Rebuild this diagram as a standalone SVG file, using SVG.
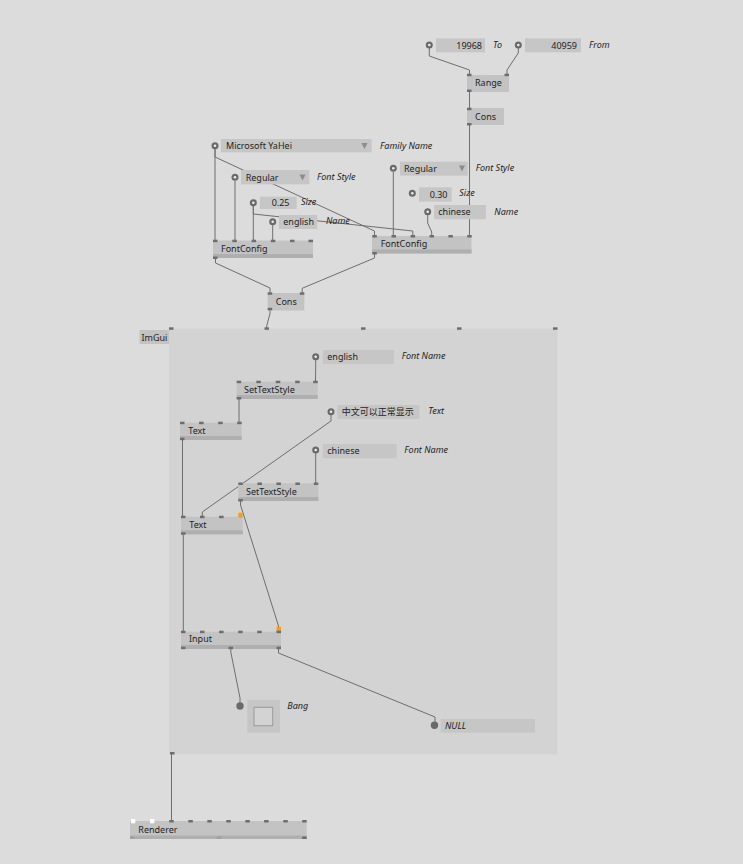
<svg xmlns="http://www.w3.org/2000/svg" width="743" height="864" viewBox="0 0 743 864">
<style>
.bg{fill:#dcdcdc}
.region{fill:#d3d3d3}
.node{fill:#c3c3c3}
.band{fill:#afafaf}
.pin{fill:#6e6e6e}
.opin{fill:#f0a020}
.wpin{fill:#ffffff}
.io{fill:#c6c6c6}
.tri{fill:#8c8c8c}
.ring{fill:#6a6a6a}
.dot{fill:#ececec}
.t{font-family:"Noto Sans","Noto Sans CJK SC",sans-serif;font-size:9px;fill:#1e1e1e}
.i{font-style:italic}
.r{text-anchor:end}
.link{fill:none;stroke:#6e6e6e;stroke-width:1}
</style>
<rect class="bg" x="0" y="0" width="743" height="864"/>

<g id="ImGui">
<rect class="region" x="169" y="328.5" width="388.5" height="426"/>
<rect class="node" x="139.5" y="330" width="29.5" height="14"/>
<text class="t" x="141.5" y="340.5">ImGui</text>
<rect class="pin" x="169" y="327.3" width="4.5" height="2.5"/>
<rect class="pin" x="264.5" y="327.3" width="4.5" height="2.5"/>
<rect class="pin" x="361" y="327.3" width="4.5" height="2.5"/>
<rect class="pin" x="457" y="327.3" width="4.5" height="2.5"/>
<rect class="pin" x="553" y="327.3" width="4.5" height="2.5"/>
<rect class="pin" x="170" y="752" width="4.5" height="2.5"/>
</g>

<g id="links">
<path class="link" d="M429.3,48 V56 L469.5,70 V74"/>
<path class="link" d="M518.3,48 V53 L507,70 V74"/>
<path class="link" d="M469.5,92 V108"/>
<path class="link" d="M469.5,125 V236"/>
<path class="link" d="M215,149 V241"/>
<path class="link" d="M215,149 V157 L374.5,231 V236"/>
<path class="link" d="M235,181 V241"/>
<path class="link" d="M253.3,206 V241"/>
<path class="link" d="M253.3,206 V214 L412.8,231 V236"/>
<path class="link" d="M272.7,225 V241"/>
<path class="link" d="M393.3,172 V236"/>
<path class="link" d="M427.7,215 V223 L431.7,232 V236"/>
<path class="link" d="M215.5,258 V263 L270,288 V293"/>
<path class="link" d="M374.5,253 V258 L302.2,288.3 V293"/>
<path class="link" d="M270,310 V313.5 L266.7,326 V328.5"/>
<path class="link" d="M315.7,360 V368 L315.5,378 V382"/>
<path class="link" d="M239,399 V423"/>
<path class="link" d="M331,415 V421 L202.3,512 V517"/>
<path class="link" d="M315.7,453 V483.5"/>
<path class="link" d="M182.5,440 V517"/>
<path class="link" d="M240.5,501 V505 L278.5,626 V631"/>
<path class="link" d="M183.3,535 V632"/>
<path class="link" d="M230.8,649 V652 L240,698 V706"/>
<path class="link" d="M278.5,649 V653 L435,717 V725"/>
<path class="link" d="M171.5,754 V821"/>
</g>

<g id="io-19968">
<circle class="ring" cx="429.3" cy="45" r="3.5"/><circle class="dot" cx="429.3" cy="45" r="1.3"/>
<rect class="io" x="436" y="38.3" width="49" height="14"/>
<text class="t r" x="482" y="48.5">19968</text>
<text class="t i" x="493" y="47.5">To</text>
</g>
<g id="io-40959">
<circle class="ring" cx="518.3" cy="45" r="3.5"/><circle class="dot" cx="518.3" cy="45" r="1.3"/>
<rect class="io" x="525" y="38.3" width="56" height="14"/>
<text class="t r" x="577" y="48.5">40959</text>
<text class="t i" x="589" y="47.5">From</text>
</g>
<g id="Range">
<rect class="node" x="467" y="75" width="42" height="17"/>
<text class="t" x="475" y="85.5">Range</text>
<rect class="pin" x="467" y="73.7" width="4.5" height="2.5"/>
<rect class="pin" x="504.5" y="73.7" width="4.5" height="2.5"/>
<rect class="pin" x="467" y="89.5" width="4.5" height="2.5"/>
</g>
<g id="Cons1">
<rect class="node" x="467" y="108" width="37" height="17"/>
<text class="t" x="475" y="119.5">Cons</text>
<rect class="pin" x="467" y="107.7" width="4.5" height="2.5"/>
<rect class="pin" x="467" y="123" width="4.5" height="2.5"/>
</g>

<g id="io-family">
<circle class="ring" cx="215" cy="145.7" r="3.5"/><circle class="dot" cx="215" cy="145.7" r="1.3"/>
<rect class="io" x="221" y="139" width="150.7" height="13.3"/>
<text class="t" x="226" y="149">Microsoft YaHei</text>
<path class="tri" d="M361.5,143 H367.5 L364.5,149 Z"/>
<text class="t i" x="380" y="148.5">Family Name</text>
</g>
<g id="io-style1">
<circle class="ring" cx="235" cy="177.3" r="3.5"/><circle class="dot" cx="235" cy="177.3" r="1.3"/>
<rect class="io" x="241" y="170" width="68.3" height="14.3"/>
<text class="t" x="245.7" y="180.5">Regular</text>
<path class="tri" d="M299.5,174.5 H305.5 L302.5,180.5 Z"/>
<text class="t i" x="317" y="179.5">Font Style</text>
</g>
<g id="io-size1">
<circle class="ring" cx="253.3" cy="202.7" r="3.5"/><circle class="dot" cx="253.3" cy="202.7" r="1.3"/>
<rect class="io" x="260" y="196.7" width="36.7" height="12.3"/>
<text class="t r" x="289.5" y="206">0.25</text>
<text class="t i" x="301" y="205">Size</text>
</g>
<g id="io-name1">
<circle class="ring" cx="272.7" cy="221.7" r="3.5"/><circle class="dot" cx="272.7" cy="221.7" r="1.3"/>
<rect class="io" x="279" y="215" width="38.3" height="14"/>
<text class="t" x="283.3" y="225">english</text>
<text class="t i" x="326" y="224">Name</text>
</g>
<g id="FontConfig1">
<rect class="node" x="213" y="240.5" width="100" height="17.5"/>
<rect class="band" x="213" y="254" width="100" height="4"/>
<text class="t" x="221" y="251.5">FontConfig</text>
<rect class="pin" x="213" y="239.7" width="4.5" height="2.5"/>
<rect class="pin" x="232.3" y="239.7" width="4.5" height="2.5"/>
<rect class="pin" x="251.6" y="239.7" width="4.5" height="2.5"/>
<rect class="pin" x="270.8" y="239.7" width="4.5" height="2.5"/>
<rect class="pin" x="290" y="239.7" width="4.5" height="2.5"/>
<rect class="pin" x="308.5" y="239.7" width="4.5" height="2.5"/>
<rect class="pin" x="213" y="256.5" width="4.5" height="2.5"/>
</g>

<g id="io-style2">
<circle class="ring" cx="393.3" cy="168.3" r="3.5"/><circle class="dot" cx="393.3" cy="168.3" r="1.3"/>
<rect class="io" x="400" y="161.7" width="67.7" height="14"/>
<text class="t" x="404" y="171.5">Regular</text>
<path class="tri" d="M459,165.5 H465 L462,171.5 Z"/>
<text class="t i" x="475.7" y="171">Font Style</text>
</g>
<g id="io-size2">
<circle class="ring" cx="412.3" cy="193.3" r="3.5"/><circle class="dot" cx="412.3" cy="193.3" r="1.3"/>
<rect class="io" x="419" y="187.3" width="32.7" height="14.4"/>
<text class="t r" x="447.5" y="197.5">0.30</text>
<text class="t i" x="459.3" y="196">Size</text>
</g>
<g id="io-name2">
<circle class="ring" cx="427.7" cy="211.7" r="3.5"/><circle class="dot" cx="427.7" cy="211.7" r="1.3"/>
<rect class="io" x="434" y="205" width="52" height="14.3"/>
<text class="t" x="438.3" y="215">chinese</text>
<text class="t i" x="494.3" y="215">Name</text>
</g>
<g id="FontConfig2">
<rect class="node" x="372" y="236" width="99.5" height="17.5"/>
<rect class="band" x="372" y="249.5" width="99.5" height="4"/>
<text class="t" x="380.7" y="247">FontConfig</text>
<rect class="pin" x="372.3" y="235" width="4.5" height="2.5"/>
<rect class="pin" x="391.5" y="235" width="4.5" height="2.5"/>
<rect class="pin" x="410.6" y="235" width="4.5" height="2.5"/>
<rect class="pin" x="429.5" y="235" width="4.5" height="2.5"/>
<rect class="pin" x="448.4" y="235" width="4.5" height="2.5"/>
<rect class="pin" x="467.2" y="235" width="4.5" height="2.5"/>
<rect class="pin" x="372.3" y="252" width="4.5" height="2.5"/>
</g>

<g id="Cons2">
<rect class="node" x="267.7" y="293" width="36.6" height="17.5"/>
<text class="t" x="275.7" y="304.5">Cons</text>
<rect class="pin" x="267.7" y="292.3" width="4.5" height="2.5"/>
<rect class="pin" x="299.8" y="292.3" width="4.5" height="2.5"/>
<rect class="pin" x="267.7" y="307.8" width="4.5" height="2.5"/>
</g>

<g id="io-fontname1">
<circle class="ring" cx="315.7" cy="356.7" r="3.5"/><circle class="dot" cx="315.7" cy="356.7" r="1.3"/>
<rect class="io" x="322.7" y="350" width="71.3" height="14"/>
<text class="t" x="327.3" y="360">english</text>
<text class="t i" x="401.7" y="359">Font Name</text>
</g>
<g id="SetTextStyle1">
<rect class="node" x="236.7" y="381.7" width="81" height="17.3"/>
<rect class="band" x="236.7" y="395" width="81" height="4"/>
<text class="t" x="244" y="392.5">SetTextStyle</text>
<rect class="pin" x="236.7" y="380.7" width="4.5" height="2.5"/>
<rect class="pin" x="256.3" y="380.7" width="4.5" height="2.5"/>
<rect class="pin" x="275.8" y="380.7" width="4.5" height="2.5"/>
<rect class="pin" x="295.2" y="380.7" width="4.5" height="2.5"/>
<rect class="pin" x="313.2" y="380.7" width="4.5" height="2.5"/>
<rect class="pin" x="236.7" y="397" width="4.5" height="2.5"/>
</g>
<g id="Text1">
<rect class="node" x="180" y="422.7" width="61.7" height="17.3"/>
<rect class="band" x="180" y="436" width="61.7" height="4"/>
<text class="t" x="188.3" y="434">Text</text>
<rect class="pin" x="180" y="421.7" width="4.5" height="2.5"/>
<rect class="pin" x="199.1" y="421.7" width="4.5" height="2.5"/>
<rect class="pin" x="218.2" y="421.7" width="4.5" height="2.5"/>
<rect class="pin" x="237.2" y="421.7" width="4.5" height="2.5"/>
<rect class="pin" x="180" y="437.7" width="4.5" height="2.5"/>
</g>
<g id="io-text">
<circle class="ring" cx="331" cy="411.7" r="3.5"/><circle class="dot" cx="331" cy="411.7" r="1.3"/>
<rect class="io" x="337.3" y="405" width="82" height="14"/>
<text class="t" x="341.7" y="415">中文可以正常显示</text>
<text class="t i" x="428.3" y="414">Text</text>
</g>
<g id="io-fontname2">
<circle class="ring" cx="315.7" cy="450" r="3.5"/><circle class="dot" cx="315.7" cy="450" r="1.3"/>
<rect class="io" x="322.7" y="444" width="74" height="14.3"/>
<text class="t" x="327.3" y="453.5">chinese</text>
<text class="t i" x="404.3" y="452.5">Font Name</text>
</g>
<g id="SetTextStyle2">
<rect class="node" x="238.3" y="483.3" width="80" height="17.7"/>
<rect class="band" x="238.3" y="497" width="80" height="4"/>
<text class="t" x="246" y="494.7">SetTextStyle</text>
<rect class="pin" x="238.3" y="482.5" width="4.5" height="2.5"/>
<rect class="pin" x="257.4" y="482.5" width="4.5" height="2.5"/>
<rect class="pin" x="276.4" y="482.5" width="4.5" height="2.5"/>
<rect class="pin" x="295.4" y="482.5" width="4.5" height="2.5"/>
<rect class="pin" x="313.8" y="482.5" width="4.5" height="2.5"/>
<rect class="pin" x="238.3" y="499" width="4.5" height="2.5"/>
</g>
<g id="Text2">
<rect class="node" x="181" y="516.7" width="61.7" height="17.6"/>
<rect class="band" x="181" y="530.3" width="61.7" height="4"/>
<text class="t" x="189.3" y="528">Text</text>
<rect class="pin" x="181" y="515.7" width="4.5" height="2.5"/>
<rect class="pin" x="200" y="515.7" width="4.5" height="2.5"/>
<rect class="pin" x="219.1" y="515.7" width="4.5" height="2.5"/>
<rect class="opin" x="238.3" y="512.7" width="4.3" height="5"/>
<rect class="pin" x="181" y="532.3" width="4.5" height="2.5"/>
</g>
<g id="Input">
<rect class="node" x="181" y="631.7" width="100" height="17.3"/>
<rect class="band" x="181" y="645" width="100" height="4"/>
<text class="t" x="189" y="642">Input</text>
<rect class="pin" x="181" y="630.7" width="4.5" height="2.5"/>
<rect class="pin" x="200" y="630.7" width="4.5" height="2.5"/>
<rect class="pin" x="219.1" y="630.7" width="4.5" height="2.5"/>
<rect class="pin" x="238.2" y="630.7" width="4.5" height="2.5"/>
<rect class="pin" x="257.2" y="630.7" width="4.5" height="2.5"/>
<rect class="opin" x="276.5" y="626.7" width="4.5" height="5"/>
<rect class="pin" x="276.5" y="630.7" width="4.5" height="2.5"/>
<rect class="pin" x="181" y="646.7" width="4.5" height="2.5"/>
<rect class="pin" x="228.5" y="646.7" width="4.5" height="2.5"/>
<rect class="pin" x="276.5" y="646.7" width="4.5" height="2.5"/>
</g>
<g id="Bang">
<circle class="ring" cx="240" cy="706" r="3.7"/>
<rect class="io" x="247.3" y="700" width="32.7" height="32.7"/>
<rect x="254" y="707.3" width="18.7" height="18.4" fill="#d3d3d3" stroke="#9a9a9a" stroke-width="1"/>
<text class="t i" x="287.3" y="709">Bang</text>
</g>
<g id="NULL">
<circle class="ring" cx="434.5" cy="725.3" r="3.7"/>
<rect class="io" x="440.7" y="719" width="94.3" height="13.7"/>
<text class="t i" x="445" y="729">NULL</text>
</g>

<g id="Renderer">
<rect class="node" x="130" y="821" width="176.7" height="18"/>
<rect class="band" x="130" y="835.5" width="176.7" height="3.5"/>
<text class="t" x="138.3" y="832.5">Renderer</text>
<rect class="wpin" x="131" y="819" width="4.3" height="4.3"/>
<rect class="wpin" x="150" y="819" width="4.3" height="4.3"/>
<rect class="pin" x="169.2" y="820" width="4.5" height="2.5"/>
<rect class="pin" x="188.3" y="820" width="4.5" height="2.5"/>
<rect class="pin" x="207.3" y="820" width="4.5" height="2.5"/>
<rect class="pin" x="226.3" y="820" width="4.5" height="2.5"/>
<rect class="pin" x="245.3" y="820" width="4.5" height="2.5"/>
<rect class="pin" x="264.1" y="820" width="4.5" height="2.5"/>
<rect class="pin" x="283.3" y="820" width="4.5" height="2.5"/>
<rect class="pin" x="302.2" y="820" width="4.5" height="2.5"/>
<rect x="130" y="836.5" width="4.5" height="2.5" fill="#a0a0a0"/>
<rect x="216.7" y="836.5" width="4.5" height="2.5" fill="#a0a0a0"/>
<rect class="pin" x="302.2" y="836.5" width="4.5" height="2.5"/>
</g>
</svg>
